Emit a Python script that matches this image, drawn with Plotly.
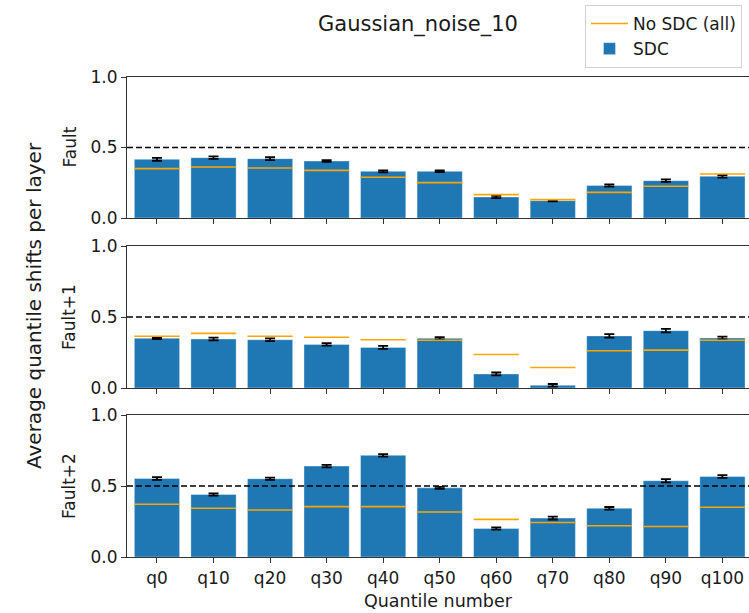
import plotly.graph_objects as go
from plotly.subplots import make_subplots

categories = ["q0", "q10", "q20", "q30", "q40", "q50", "q60", "q70", "q80", "q90", "q100"]
row_labels = ["Fault", "Fault+1", "Fault+2"]

sdc_fault = [0.416, 0.428, 0.421, 0.404, 0.331, 0.331, 0.149, 0.123, 0.230, 0.265, 0.296]
sdc_fault1 = [0.350, 0.345, 0.340, 0.307, 0.286, 0.350, 0.099, 0.019, 0.367, 0.404, 0.352]
sdc_fault2 = [0.553, 0.440, 0.551, 0.640, 0.716, 0.487, 0.201, 0.274, 0.343, 0.537, 0.567]

err_fault = [0.010, 0.009, 0.010, 0.006, 0.007, 0.006, 0.008, 0.005, 0.008, 0.009, 0.009]
err_fault1 = [0.006, 0.010, 0.010, 0.009, 0.010, 0.008, 0.010, 0.009, 0.012, 0.012, 0.010]
err_fault2 = [0.010, 0.008, 0.008, 0.009, 0.009, 0.007, 0.008, 0.010, 0.009, 0.011, 0.010]

nosdc_fault = [0.350, 0.362, 0.355, 0.338, 0.289, 0.251, 0.166, 0.130, 0.182, 0.225, 0.312]
nosdc_fault1 = [0.364, 0.385, 0.364, 0.357, 0.340, 0.336, 0.236, 0.144, 0.262, 0.267, 0.336]
nosdc_fault2 = [0.371, 0.343, 0.331, 0.355, 0.355, 0.317, 0.265, 0.243, 0.220, 0.215, 0.350]

sdc_all = [sdc_fault, sdc_fault1, sdc_fault2]
err_all = [err_fault, err_fault1, err_fault2]
nosdc_all = [nosdc_fault, nosdc_fault1, nosdc_fault2]

BLUE = "#1f77b4"
ORANGE = "#ffa500"
FONT = "DejaVu Sans"
TXT = "#1a1a1a"
AX = "#333333"

W, H = 749, 613
L, R, T, B = 127, 0, 77, 56
PW, PH = W - L - R, H - T - B

def px_x(p):
    return (p - L) / PW

def px_y(p):
    return (H - B - p) / PH

fig = make_subplots(rows=3, cols=1, shared_xaxes=False, vertical_spacing=0.0)

domains = [(77, 218), (246, 388), (415, 557)]
xs = list(range(len(categories)))

for i in range(3):
    r = i + 1
    fig.add_trace(go.Bar(
        x=xs, y=sdc_all[i], width=0.8,
        marker=dict(color=BLUE, line=dict(width=0.8, color="rgba(255,255,255,0.45)")),
        error_y=dict(type="data", array=err_all[i], color="black", thickness=1.8, width=5),
        name="SDC", showlegend=(i == 0), legendrank=2,
    ), row=r, col=1)
    lx, ly = [], []
    for xi, v in zip(xs, nosdc_all[i]):
        lx += [xi - 0.4, xi + 0.4, None]
        ly += [v, v, None]
    fig.add_trace(go.Scatter(
        x=lx, y=ly, mode="lines", line=dict(color=ORANGE, width=1.6),
        name="No SDC (all)", showlegend=(i == 0), legendrank=1,
    ), row=r, col=1)

for i in range(3):
    top, bot = domains[i]
    yname = "yaxis" if i == 0 else f"yaxis{i+1}"
    xname = "xaxis" if i == 0 else f"xaxis{i+1}"
    fig.layout[yname].update(
        domain=[px_y(bot), px_y(top)], range=[0, 1.0], tickvals=[0, 0.5, 1.0],
        ticktext=["0.0", "0.5", "1.0"], showgrid=False, zeroline=False,
        showline=True, linecolor=AX, linewidth=1.2, mirror=True,
        ticks="outside", ticklen=5, tickcolor=AX, tickwidth=1.2,
        tickfont=dict(family=FONT, size=17, color=TXT),
    )
    fig.layout[xname].update(
        range=[-0.53, 10.47], tickvals=xs, ticktext=categories,
        showticklabels=(i == 2), showgrid=False, zeroline=False,
        showline=True, linecolor=AX, linewidth=1.2, mirror=True,
        ticks="outside", ticklen=5, tickcolor=AX, tickwidth=1.2,
        tickfont=dict(family=FONT, size=17, color=TXT),
    )
    yref = "y" if i == 0 else f"y{i+1}"
    xdom = "x domain" if i == 0 else f"x{i+1} domain"
    fig.add_shape(type="line", xref=xdom, yref=yref,
                  x0=0, x1=1, y0=0.5, y1=0.5, line=dict(color="black", width=1.5, dash="6px,3px"))
    fig.add_annotation(text=row_labels[i], x=px_x(69), y=px_y((top + bot) / 2), xref="paper", yref="paper",
                       textangle=-90, showarrow=False, font=dict(family=FONT, size=17, color=TXT),
                       xanchor="center", yanchor="middle")

fig.add_annotation(text="Average quantile shifts per layer", x=px_x(34), y=px_y(306), xref="paper", yref="paper",
                   textangle=-90, showarrow=False, font=dict(family=FONT, size=20, color=TXT),
                   xanchor="center", yanchor="middle")
fig.add_annotation(text="Quantile number", x=px_x(438), y=px_y(601), xref="paper", yref="paper",
                   showarrow=False, font=dict(family=FONT, size=17.5, color=TXT),
                   xanchor="center", yanchor="middle")
fig.add_annotation(text="Gaussian_noise_10", x=px_x(418), y=px_y(25), xref="paper", yref="paper",
                   showarrow=False, font=dict(family=FONT, size=21, color=TXT),
                   xanchor="center", yanchor="middle")

fig.update_layout(
    width=W, height=H,
    margin=dict(l=L, r=R, t=T, b=B),
    plot_bgcolor="white", paper_bgcolor="white",
    barmode="overlay",
    legend=dict(x=px_x(742), y=px_y(5), xanchor="right", yanchor="top",
                bgcolor="white", bordercolor="#d0d0d0", borderwidth=1,
                font=dict(family=FONT, size=17, color=TXT), tracegroupgap=0,
                itemwidth=37),
    font=dict(family=FONT),
)

fig.write_html("out.html")
